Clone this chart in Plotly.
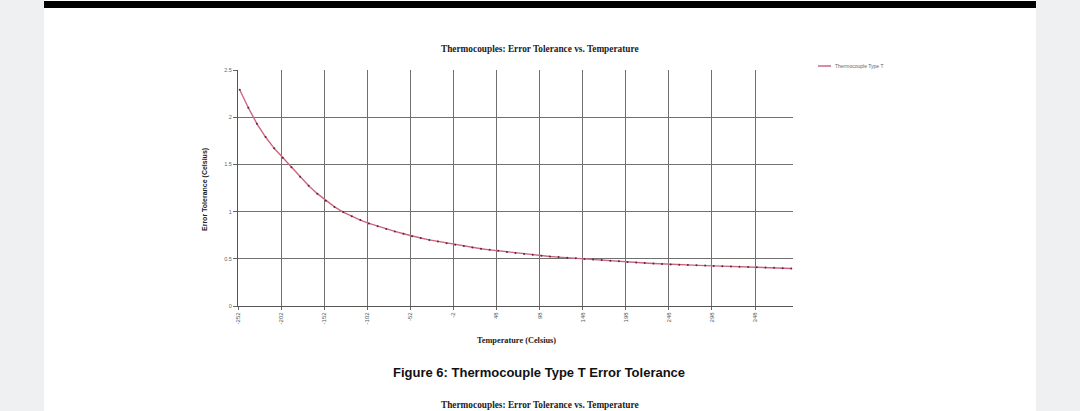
import plotly.graph_objects as go

# ---- data ----
temperature = list(range(-250, 391, 10))
tolerance = [
    2.29, 2.10, 1.93, 1.79, 1.67, 1.57, 1.47, 1.37, 1.275, 1.19,
    1.115, 1.05, 0.995, 0.95, 0.91, 0.875, 0.845, 0.815, 0.79, 0.765,
    0.74, 0.72, 0.70, 0.683, 0.666, 0.65, 0.635, 0.62, 0.606, 0.595,
    0.584, 0.573, 0.562, 0.552, 0.542, 0.533, 0.525, 0.518, 0.511, 0.505,
    0.498, 0.492, 0.486, 0.479, 0.473, 0.467, 0.461, 0.455, 0.45, 0.445,
    0.44, 0.437, 0.434, 0.431, 0.428, 0.425, 0.422, 0.419, 0.416, 0.413,
    0.41, 0.407, 0.404, 0.401, 0.398,
]
x_ticks = [-252, -202, -152, -102, -52, -2, 48, 98, 148, 198, 248, 298, 348]
y_ticks = [0, 0.5, 1, 1.5, 2, 2.5]
y_tick_text = ["0", "0.5", "1", "1.5", "2", "2.5"]
series_name = "Thermocouple Type T"
chart_title = "Thermocouples: Error Tolerance vs. Temperature"
caption = "Figure 6: Thermocouple Type T Error Tolerance"

# ---- layout geometry (pixels) ----
W, H = 1080, 411
L, R, T, B = 238, 793, 70, 306


def px(x):
    return (x - L) / (R - L)


def py(y):
    return (B - y) / (B - T)


fig = go.Figure()
fig.add_trace(go.Scatter(
    x=temperature, y=tolerance, mode="lines+markers", name=series_name,
    line=dict(color="#cc6680", width=1.4),
    marker=dict(color="#5a2a36", size=2),
    showlegend=False,
))

shapes = [
    # white page
    dict(type="rect", xref="paper", yref="paper", x0=px(44), x1=px(1036),
         y0=py(H + 5), y1=py(0), fillcolor="white", line=dict(width=0), layer="below"),
    # black bar at top of page
    dict(type="rect", xref="paper", yref="paper", x0=px(44), x1=px(1036),
         y0=py(8), y1=py(1), fillcolor="black", line=dict(width=0), layer="above"),
    # legend line sample
    dict(type="line", xref="paper", yref="paper", x0=px(818), x1=px(831),
         y0=py(66), y1=py(66), line=dict(color="#cc6680", width=1.5)),
]

annotations = [
    dict(text="<b>" + chart_title + "</b>", xref="paper", yref="paper",
         x=px(540), y=py(49), showarrow=False, xanchor="center", yanchor="middle",
         font=dict(family="Liberation Serif", size=9.3, color="#222")),
    dict(text="<b>Temperature (Celsius)</b>", xref="paper", yref="paper",
         x=px(516), y=py(340), showarrow=False, xanchor="center", yanchor="middle",
         font=dict(family="Liberation Serif", size=8.3, color="#222")),
    dict(text="<b>Error Tolerance (Celsius)</b>", xref="paper", yref="paper",
         x=px(205), y=py(190), showarrow=False, xanchor="center", yanchor="middle",
         textangle=-90,
         font=dict(family="Liberation Sans", size=7, color="#222")),
    dict(text=series_name, xref="paper", yref="paper",
         x=px(833), y=py(66), showarrow=False, xanchor="left", yanchor="middle",
         font=dict(family="Liberation Sans Narrow, Liberation Sans", size=5, color="#666")),
    dict(text="<b>" + caption + "</b>", xref="paper", yref="paper",
         x=px(539), y=py(372.5), showarrow=False, xanchor="center", yanchor="middle",
         font=dict(family="Liberation Sans", size=13, color="#111")),
    dict(text="<b>" + chart_title + "</b>", xref="paper", yref="paper",
         x=px(540), y=py(405), showarrow=False, xanchor="center", yanchor="middle",
         font=dict(family="Liberation Serif", size=9.3, color="#222")),
]

fig.update_layout(
    width=W, height=H,
    margin=dict(l=L, r=W - R, t=T, b=H - B, pad=0),
    paper_bgcolor="#eef0f2",
    plot_bgcolor="white",
    shapes=shapes,
    annotations=annotations,
    xaxis=dict(
        range=[-252, 392], tickmode="array", tickvals=x_ticks,
        ticktext=[str(v) for v in x_ticks], tickangle=-90,
        showgrid=True, gridcolor="#707070", gridwidth=1,
        showline=True, linecolor="#555", linewidth=1,
        ticks="outside", ticklen=3, tickcolor="#666",
        tickfont=dict(family="Liberation Sans", size=6, color="#555"),
        zeroline=False, fixedrange=True,
    ),
    yaxis=dict(
        range=[0, 2.5], tickmode="array", tickvals=y_ticks, ticktext=y_tick_text,
        showgrid=True, gridcolor="#707070", gridwidth=1,
        showline=True, linecolor="#555", linewidth=1,
        ticks="outside", ticklen=4, tickcolor="#666",
        tickfont=dict(family="Liberation Sans", size=5.5, color="#666"),
        zeroline=False, fixedrange=True,
    ),
)

fig.write_html("out.html")
